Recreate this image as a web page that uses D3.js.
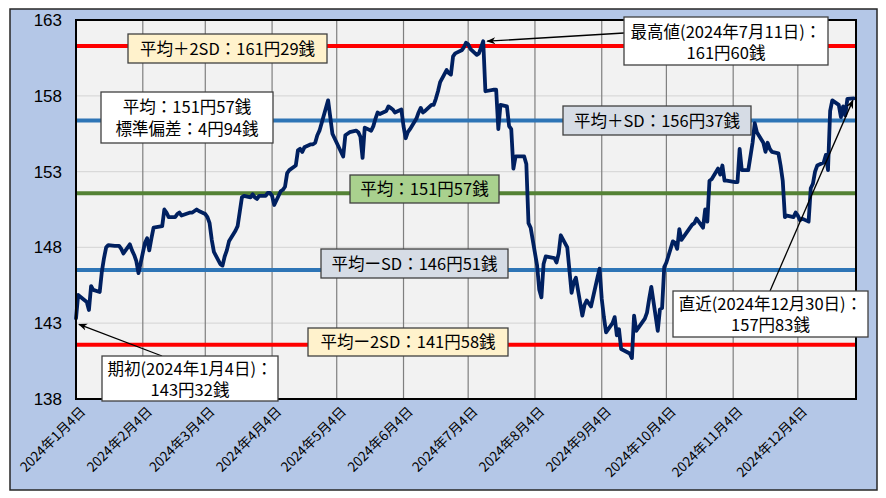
<!DOCTYPE html>
<html><head><meta charset="utf-8">
<script src="https://cdnjs.cloudflare.com/ajax/libs/d3/7.8.5/d3.min.js"></script>
<style>
body{margin:0;background:#fff;}
svg{display:block;font-family:"Noto Sans CJK JP","Noto Sans",sans-serif;}
</style></head><body>
<svg id="c" width="886" height="498"></svg>
<script>
// ---- data (2024, month/day) ----
const dates = [
"1/4","1/5","1/9","1/10","1/11","1/12","1/15","1/16","1/17","1/18","1/19","1/22","1/23","1/24","1/25","1/26","1/29","1/30","1/31",
"2/1","2/2","2/5","2/6","2/7","2/8","2/9","2/13","2/14","2/15","2/16","2/19","2/20","2/21","2/22","2/26","2/27","2/28","2/29",
"3/1","3/4","3/5","3/6","3/7","3/8","3/11","3/12","3/13","3/14","3/15","3/18","3/19","3/21","3/22","3/25","3/26","3/27","3/28","3/29",
"4/1","4/2","4/3","4/4","4/5","4/8","4/9","4/10","4/11","4/12","4/15","4/16","4/17","4/18","4/19","4/22","4/23","4/24","4/25","4/26","4/30",
"5/1","5/2","5/7","5/8","5/9","5/10","5/13","5/14","5/15","5/16","5/17","5/20","5/21","5/22","5/23","5/24","5/27","5/28","5/29","5/30","5/31",
"6/3","6/4","6/5","6/6","6/7","6/10","6/11","6/12","6/13","6/14","6/17","6/18","6/19","6/20","6/21","6/24","6/25","6/26","6/27","6/28",
"7/1","7/2","7/3","7/4","7/5","7/8","7/9","7/10","7/11","7/12","7/16","7/17","7/18","7/19","7/22","7/23","7/24","7/25","7/26","7/29","7/30","7/31",
"8/1","8/2","8/5","8/6","8/7","8/8","8/9","8/13","8/14","8/15","8/16","8/19","8/20","8/21","8/22","8/23","8/26","8/27","8/28","8/29","8/30",
"9/2","9/3","9/4","9/5","9/6","9/9","9/10","9/11","9/12","9/13","9/17","9/18","9/19","9/20","9/24","9/25","9/26","9/27","9/30",
"10/1","10/2","10/3","10/4","10/7","10/8","10/9","10/10","10/11","10/15","10/16","10/17","10/18","10/21","10/22","10/23","10/24","10/25","10/28","10/29","10/30","10/31",
"11/1","11/5","11/6","11/7","11/8","11/11","11/12","11/13","11/14","11/15","11/18","11/19","11/20","11/21","11/22","11/25","11/26","11/27","11/28","11/29",
"12/2","12/3","12/4","12/5","12/6","12/9","12/10","12/11","12/12","12/13","12/16","12/17","12/18","12/19","12/20","12/23","12/24","12/25","12/26","12/27","12/30"
];
const rates = [
143.32,144.86,144.4,143.87,145.45,145.2,145.06,146.4,147.3,148.0,148.15,148.1,148.1,148.1,147.9,147.6,148.2,147.8,147.5,
147.1,146.3,148.3,148.6,147.8,148.6,149.3,149.4,150.5,150.3,150.0,150.0,150.2,150.3,150.1,150.3,150.3,150.4,150.5,
150.4,150.2,150.0,149.6,148.5,147.7,146.9,146.8,147.4,147.8,148.4,149.1,149.4,151.3,151.4,151.3,151.5,151.3,151.2,151.4,
151.4,151.6,151.6,151.4,150.8,151.7,151.8,152.0,152.9,153.1,153.4,154.4,154.5,154.3,154.6,154.8,154.8,154.9,155.4,155.7,157.7,
156.6,155.5,154.0,155.4,155.5,155.6,155.7,155.6,155.3,153.9,155.9,155.7,156.0,156.5,156.9,156.8,157.0,157.3,157.2,157.1,156.9,
157.1,156.0,155.2,155.6,155.8,156.5,156.9,157.2,156.9,157.0,157.4,157.4,157.8,158.3,158.9,159.7,159.5,159.4,160.6,160.8,
161.0,161.2,161.5,161.4,161.1,160.7,160.8,161.2,161.60,158.3,158.4,158.4,155.8,157.4,157.3,156.0,155.8,153.2,154.0,154.0,154.0,153.5,
149.6,149.3,146.8,145.2,144.7,146.9,147.4,147.3,147.0,147.6,148.8,148.0,146.5,145.0,145.7,146.0,143.5,144.2,144.5,144.3,144.1,
146.0,146.6,144.6,143.4,142.4,143.0,143.4,142.2,142.6,141.3,141.0,140.7,143.5,142.5,143.3,143.7,144.6,145.4,142.5,
143.9,144.0,146.7,147.0,148.4,148.3,147.9,149.2,148.5,149.3,149.5,149.6,149.9,149.3,150.5,149.7,152.4,152.5,153.2,152.8,153.4,152.4,
152.4,152.3,152.3,154.5,153.1,153.1,154.0,154.9,156.2,155.6,154.9,154.3,154.9,154.5,154.3,154.2,153.4,152.4,150.0,150.1,
150.0,150.3,150.1,149.8,149.9,149.7,151.9,152.2,153.0,153.4,153.6,154.1,153.1,157.0,157.7,157.4,156.6,157.3,156.7,157.8,157.83
];
const yTicks = [138,143,148,153,158,163];
const xTickDates = ["1/4","2/4","3/4","4/4","5/4","6/4","7/4","8/4","9/4","10/4","11/4","12/4"];
const xTickLabels = ["2024年1月4日","2024年2月4日","2024年3月4日","2024年4月4日","2024年5月4日","2024年6月4日","2024年7月4日","2024年8月4日","2024年9月4日","2024年10月4日","2024年11月4日","2024年12月4日"];
const refValues = [161.29,156.37,151.57,146.51,141.58];
const refColors = ["#FF0000","#2E75B6","#548235","#2E75B6","#FF0000"];
const refLabels = ["平均＋2SD：161円29銭","平均＋SD：156円37銭","平均：151円57銭","平均ーSD：146円51銭","平均ー2SD：141円58銭"];
const statLines = ["平均：151円57銭","標準偏差：4円94銭"];
const startLines = ["期初(2024年1月4日)：","143円32銭"];
const maxLines = ["最高値(2024年7月11日)：","161円60銭"];
const lastLines = ["直近(2024年12月30日)：","157円83銭"];

// ---- layout ----
const P={l:76,t:20,r:856,b:399};
const parse = s => d3.utcParse("%Y/%m/%d")("2024/"+s);
const data = dates.map((d,i)=>({d:parse(d),v:rates[i]}));
const x = d3.scaleUtc().domain([parse("1/4"), parse("12/31")]).range([P.l,P.r]);
const y = d3.scaleLinear().domain([138,163]).range([P.b,P.t]);

const svg = d3.select("#c");
svg.append("rect").attr("x",10).attr("y",9).attr("width",867).attr("height",481)
  .attr("fill","#B4C7E7").attr("stroke","#262626").attr("stroke-width",1.5);
svg.append("rect").attr("x",P.l).attr("y",P.t).attr("width",P.r-P.l).attr("height",P.b-P.t)
  .attr("fill","#F2F2F2");

// horizontal grid
svg.append("g").selectAll("line").data(yTicks.slice(1,-1)).join("line")
  .attr("x1",P.l).attr("x2",P.r).attr("y1",d=>y(d)).attr("y2",d=>y(d))
  .attr("stroke","#D9D9D9").attr("stroke-width",1.2);
// vertical grid
svg.append("g").selectAll("line").data(xTickDates.slice(1)).join("line")
  .attr("x1",d=>x(parse(d))).attr("x2",d=>x(parse(d))).attr("y1",P.t).attr("y2",P.b)
  .attr("stroke","#7F7F7F").attr("stroke-width",1.2);

// y axis labels
const yAxis = d3.axisLeft(y).tickValues(yTicks).tickSize(0).tickPadding(14).tickFormat(d3.format("d"));
const ga = svg.append("g").attr("transform",`translate(${P.l},0)`).call(yAxis);
ga.select(".domain").remove();
ga.selectAll("text").attr("fill","#000").attr("font-family","'Liberation Sans Narrow','Liberation Sans',sans-serif").attr("font-size",17);

// x axis labels
svg.append("g").selectAll("text").data(xTickDates).join("text")
  .attr("transform",(d)=>`translate(${x(parse(d))+7},${P.b+10}) rotate(-45)`)
  .attr("text-anchor","end").attr("dy","0.35em").attr("font-size",13.5).attr("fill","#000")
  .text((d,i)=>xTickLabels[i]);

// ref lines
svg.append("g").selectAll("line").data(refValues).join("line")
  .attr("x1",P.l).attr("x2",P.r).attr("y1",d=>y(d)).attr("y2",d=>y(d))
  .attr("stroke",(d,i)=>refColors[i]).attr("stroke-width",4);

// data line
svg.append("path").datum(data)
  .attr("d",d3.line().x(d=>x(d.d)).y(d=>y(d.v)))
  .attr("fill","none").attr("stroke","#002060").attr("stroke-width",3.8)
  .attr("stroke-linejoin","round").attr("stroke-linecap","round");

// plot border
svg.append("rect").attr("x",P.l).attr("y",P.t).attr("width",P.r-P.l).attr("height",P.b-P.t)
  .attr("fill","none").attr("stroke","#000").attr("stroke-width",2);

// arrows
const defs = svg.append("defs");
defs.append("marker").attr("id","ah").attr("viewBox","0 0 10 10").attr("refX",9).attr("refY",5)
  .attr("markerWidth",9).attr("markerHeight",9).attr("orient","auto-start-reverse").attr("markerUnits","userSpaceOnUse")
  .append("path").attr("d","M0,1 L10,5 L0,9 L3,5 Z").attr("fill","#000");
const first = data[0], last = data[data.length-1];
const maxPt = data.reduce((a,b)=>b.v>a.v?b:a);
const arrows = [
  {x1:162,y1:356,x2:x(first.d)+3,y2:y(first.v)+6},
  {x1:624,y1:33,x2:x(maxPt.d)+4,y2:y(maxPt.v)},
  {x1:770,y1:291,x2:x(last.d)-1,y2:y(last.v)+2}
];
svg.append("g").selectAll("line").data(arrows).join("line")
  .attr("x1",d=>d.x1).attr("y1",d=>d.y1).attr("x2",d=>d.x2).attr("y2",d=>d.y2)
  .attr("stroke","#000").attr("stroke-width",1.3).attr("marker-end","url(#ah)");

// label boxes (cy = centre of each text line)
const boxes = [
  {x:128,y:34,w:199,h:29,fill:"#FFF2CC",lines:[refLabels[0]],cy:[48.5]},
  {x:563,y:106,w:188,h:29,fill:"#D6DCE5",lines:[refLabels[1]],cy:[120.5]},
  {x:350,y:175,w:149,h:28,fill:"#A9D18E",lines:[refLabels[2]],cy:[189]},
  {x:321,y:249,w:187,h:29,fill:"#D6DCE5",lines:[refLabels[3]],cy:[263.5]},
  {x:308,y:328,w:200,h:28,fill:"#FFF2CC",lines:[refLabels[4]],cy:[342]},
  {x:101,y:92,w:172,h:51,fill:"#FFFFFF",lines:statLines,cy:[107,128.5]},
  {x:102,y:356,w:176,h:45,fill:"#FFFFFF",lines:startLines,cy:[368.5,389.5]},
  {x:624,y:17,w:204,h:48,fill:"#FFFFFF",lines:maxLines,cy:[31.5,52.5]},
  {x:673,y:291,w:195,h:46,fill:"#FFFFFF",lines:lastLines,cy:[304,325]}
];
const bg = svg.append("g").selectAll("g").data(boxes).join("g");
bg.append("rect").attr("x",d=>d.x).attr("y",d=>d.y).attr("width",d=>d.w).attr("height",d=>d.h)
  .attr("fill",d=>d.fill).attr("stroke","#404040").attr("stroke-width",1.3);
bg.each(function(d){
  const t = d3.select(this).append("text")
    .attr("text-anchor","middle").attr("font-size",16.5).attr("fill","#000");
  t.selectAll("tspan").data(d.lines).join("tspan")
    .attr("x",d.x+d.w/2)
    .attr("y",(s,i)=> d.cy[i] + 6)
    .text(s=>s);
});
</script></body></html>
